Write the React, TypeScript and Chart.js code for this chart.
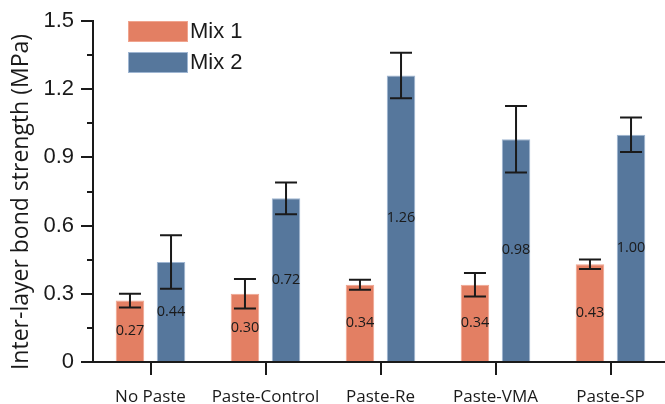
import React, { useEffect, useRef } from "react";
import { Chart, registerables } from "chart.js";

Chart.register(...registerables);

const categories = ["No Paste", "Paste-Control", "Paste-Re", "Paste-VMA", "Paste-SP"];
const mix1Values = [0.27, 0.30, 0.34, 0.34, 0.43];
const mix2Values = [0.44, 0.72, 1.26, 0.98, 1.00];
const mix1Errors = [0.03, 0.065, 0.022, 0.052, 0.021];
const mix2Errors = [0.118, 0.07, 0.10, 0.146, 0.076];
const seriesNames = ["Mix 1", "Mix 2"];
const yMajorTicks = [0, 0.3, 0.6, 0.9, 1.2, 1.5];
const yMinorTicks = [0.15, 0.45, 0.75, 1.05, 1.35];
const yTitle = "Inter-layer bond strength (MPa)";

const ORANGE = "#E37F63";
const ORANGE_EDGE = "#F0A48E";
const BLUE = "#56779C";
const BLUE_EDGE = "#9FB6D2";
const INK = "#1A1A1A";

const fmtTick = (v: number) => (v === 0 ? "0" : v.toFixed(1));

const decorPlugin = {
  id: "decor",
  afterDatasetsDraw(chart: any) {
    const ctx = chart.ctx;
    const y = chart.scales.y;
    const errs = [mix1Errors, mix2Errors];
    const vals = [mix1Values, mix2Values];
    ctx.save();
    ctx.fillStyle = INK;
    ctx.font = "14.5px 'Open Sans'";
    ctx.textAlign = "center";
    ctx.textBaseline = "middle";
    for (let d = 0; d < 2; d++) {
      const meta = chart.getDatasetMeta(d);
      meta.data.forEach((bar: any, i: number) => {
        ctx.fillText(vals[d][i].toFixed(2), bar.x, (bar.y + bar.base) / 2);
      });
    }
    ctx.strokeStyle = INK;
    ctx.lineWidth = 2;
    for (let d = 0; d < 2; d++) {
      const meta = chart.getDatasetMeta(d);
      meta.data.forEach((bar: any, i: number) => {
        const v = vals[d][i];
        const e = errs[d][i];
        const yt = y.getPixelForValue(v + e);
        const yb = y.getPixelForValue(v - e);
        const x = bar.x;
        const hw = 11;
        ctx.beginPath();
        ctx.moveTo(x, yt);
        ctx.lineTo(x, yb);
        ctx.moveTo(x - hw, yt);
        ctx.lineTo(x + hw, yt);
        ctx.moveTo(x - hw, yb);
        ctx.lineTo(x + hw, yb);
        ctx.stroke();
      });
    }
    ctx.restore();
  },
  afterDraw(chart: any) {
    const ctx = chart.ctx;
    const y = chart.scales.y;
    const left = chart.chartArea.left;
    ctx.save();
    ctx.strokeStyle = INK;
    ctx.lineWidth = 2;
    yMinorTicks.forEach((v) => {
      const py = Math.round(y.getPixelForValue(v));
      ctx.beginPath();
      ctx.moveTo(left - 6, py);
      ctx.lineTo(left, py);
      ctx.stroke();
    });
    const colors = [ORANGE, BLUE];
    const edges = [ORANGE_EDGE, BLUE_EDGE];
    const bx = 128;
    const by = [21, 52];
    ctx.font = "22px 'Liberation Sans'";
    ctx.textAlign = "left";
    ctx.textBaseline = "middle";
    for (let i = 0; i < 2; i++) {
      ctx.fillStyle = colors[i];
      ctx.fillRect(bx, by[i], 60, 21);
      ctx.strokeStyle = edges[i];
      ctx.lineWidth = 1;
      ctx.strokeRect(bx + 0.5, by[i] + 0.5, 59, 20);
      ctx.fillStyle = INK;
      ctx.fillText(seriesNames[i], bx + 62, by[i] + 11);
    }
    ctx.translate(21.5, 202);
    ctx.rotate(-Math.PI / 2);
    ctx.font = "23px 'Open Sans'";
    ctx.textAlign = "center";
    ctx.textBaseline = "middle";
    ctx.fillStyle = INK;
    ctx.fillText(yTitle, 0, 0);
    ctx.restore();
  },
};

export default function App() {
  const canvasRef = useRef<HTMLCanvasElement | null>(null);

  useEffect(() => {
    document.body.style.margin = "0";
    const canvas = canvasRef.current;
    if (!canvas) return;
    const chart = new Chart(canvas, {
      type: "bar",
      data: {
        labels: categories,
        datasets: [
          {
            label: seriesNames[0],
            data: mix1Values,
            backgroundColor: ORANGE,
            borderColor: ORANGE_EDGE,
            borderWidth: 1,
            categoryPercentage: 0.714,
            barPercentage: 0.695,
          },
          {
            label: seriesNames[1],
            data: mix2Values,
            backgroundColor: BLUE,
            borderColor: BLUE_EDGE,
            borderWidth: 1,
            categoryPercentage: 0.714,
            barPercentage: 0.695,
          },
        ],
      },
      options: {
        animation: false,
        responsive: false,
        maintainAspectRatio: false,
        layout: { padding: { top: 21, left: 0, right: 0, bottom: 0 } },
        plugins: {
          legend: { display: false },
          tooltip: { enabled: false },
        },
        scales: {
          x: {
            offset: true,
            border: { display: true, color: INK, width: 2 },
            grid: {
              display: true,
              drawOnChartArea: false,
              drawTicks: true,
              offset: false,
              tickLength: 13,
              color: INK,
              lineWidth: 2,
            },
            ticks: {
              color: INK,
              font: { family: "'Open Sans'", size: 17 },
              padding: 12,
              maxRotation: 0,
              autoSkip: false,
            },
            afterFit: (s: any) => {
              s.height = 42;
            },
          },
          y: {
            min: 0,
            max: 1.5,
            border: { display: true, color: INK, width: 2 },
            grid: {
              display: true,
              drawOnChartArea: false,
              drawTicks: true,
              tickLength: 12,
              color: INK,
              lineWidth: 2,
            },
            afterBuildTicks: (s: any) => {
              s.ticks = yMajorTicks.map((v) => ({ value: v }));
            },
            ticks: {
              color: INK,
              font: { family: "'Liberation Sans'", size: 22 },
              padding: 7,
              callback: (v: any) => fmtTick(Number(v)),
            },
            afterFit: (s: any) => {
              s.width = 93;
            },
          },
        },
      },
      plugins: [decorPlugin],
    });
    return () => chart.destroy();
  }, []);

  return (
    <div style={{ width: 665, height: 404, overflow: "hidden", position: "relative" }}>
      <canvas ref={canvasRef} width={668} height={404} style={{ display: "block" }} />
    </div>
  );
}
